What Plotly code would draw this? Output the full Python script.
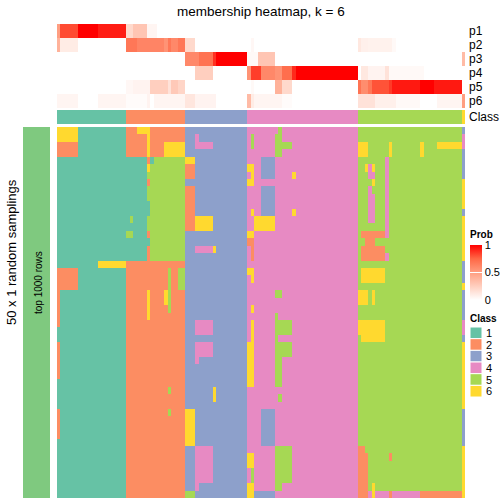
import plotly.graph_objects as go

# ---------------- data ----------------
class_labels = ["1", "2", "3", "4", "5", "6"]
class_colors = ["#66C2A5", "#FC8D62", "#8DA0CB", "#E78AC3", "#A6D854", "#FFD92F"]
n_cols = 118

# class of each column (run-length: class:count)
column_class_runs = "1:20 2:17 3:18 4:32 5:30 6:1"

prob_names = ["p1", "p2", "p3", "p4", "p5", "p6"]
# membership probabilities per column (run-length: count, value)
p1_runs = [(1, 0.5), (5, 0.82), (6, 1.0), (8, 0.93), (2, 0.2), (4, 0.3), (3, 0.05), (89, 0.0)]
p2_runs = [(1, 0.4), (5, 0.1), (14, 0.0), (3, 0.68), (4, 0.62), (4, 0.62), (1, 0.55), (1, 0.68),
           (2, 0.6), (2, 0.68), (3, 0.2), (16, 0.0), (1, 0.04), (30, 0.0), (1, 0.12), (2, 0.08),
           (7, 0.07), (1, 0.03), (20, 0.0)]
p3_runs = [(37, 0.0), (4, 0.6), (4, 0.7), (1, 0.88), (9, 1.0), (3, 0.03), (5, 0.3), (54, 0.0), (1, 0.35)]
p4_runs = [(40, 0.0), (5, 0.25), (10, 0.0), (1, 0.55), (3, 0.85), (4, 0.6), (2, 0.55), (3, 0.72),
           (1, 0.9), (18, 1.0), (1, 0.0), (2, 0.12), (5, 0.06), (1, 0.15), (10, 0.03), (12, 0.0)]
p5_runs = [(20, 0.0), (2, 0.04), (5, 0.06), (5, 0.25), (1, 0.15), (2, 0.28), (2, 0.22), (19, 0.0),
           (1, 0.03), (6, 0.0), (2, 0.4), (3, 0.2), (19, 0.0), (1, 0.7), (2, 0.58), (1, 0.68),
           (5, 0.8), (1, 0.86), (8, 0.94), (4, 1.0), (8, 0.94), (1, 0.0)]
p6_runs = [(6, 0.05), (6, 0.0), (8, 0.05), (6, 0.02), (1, 0.06), (1, 0.0), (9, 0.05), (3, 0.13),
           (6, 0.06), (9, 0.0), (1, 0.35), (1, 0.1), (8, 0.05), (3, 0.02), (19, 0.0), (5, 0.15),
           (6, 0.08), (7, 0.03), (5, 0.0), (7, 0.05), (1, 0.5)]

# 50 random samplings x 118 columns, predicted class (run-length: class:count)
membership_rows = [
    "6:6 1:14 2:3 6:4 2:10 3:18 4:9 5:1 4:22 5:30 3:1",
    "6:6 1:14 2:6 6:1 2:10 3:3 4:1 3:14 4:1 5:1 4:6 5:2 4:22 5:30 4:1",
    "2:6 1:14 2:6 6:1 2:4 6:6 3:3 4:5 3:10 4:1 5:1 4:6 5:5 4:19 6:3 5:6 6:1 5:8 6:1 5:4 6:7 4:1",
    "2:6 1:14 2:6 6:1 2:4 6:6 3:18 4:8 5:2 4:22 6:3 5:6 6:1 5:8 6:1 5:11 3:1",
    "1:26 2:1 1:1 5:9 6:3 3:15 4:4 3:4 4:24 5:8 4:1 5:21 3:1",
    "1:26 6:1 5:10 2:3 3:15 6:2 4:2 3:4 4:24 5:2 6:1 4:1 6:1 5:3 4:1 5:21 3:1",
    "1:26 5:11 2:3 3:15 4:1 6:1 4:2 3:4 4:5 6:1 4:18 5:3 4:2 5:3 4:1 5:21 3:1",
    "1:26 2:1 5:10 3:18 6:2 4:30 5:4 6:1 5:3 4:1 5:21 6:1",
    "1:26 5:11 2:3 3:15 4:4 3:4 4:24 5:3 4:1 5:4 4:1 5:21 6:1",
    "1:26 5:11 2:3 3:15 4:4 3:4 4:24 5:3 4:2 5:3 4:1 5:21 6:1",
    "1:27 5:10 2:3 3:15 4:4 3:4 4:24 5:3 4:2 5:3 4:1 5:21 6:1",
    "1:27 5:10 2:3 3:15 4:1 6:1 4:2 3:4 4:5 6:1 4:18 5:3 4:2 5:3 4:1 5:21 3:1",
    "1:21 5:1 1:4 5:11 2:3 6:5 3:10 4:2 6:6 4:24 5:3 4:2 5:3 4:1 5:21 6:1",
    "1:26 5:11 2:3 6:5 3:10 4:2 6:6 4:24 5:8 4:1 5:21 6:1",
    "1:20 5:2 1:4 2:1 5:10 3:18 6:2 4:30 5:1 2:7 4:1 5:21 6:1",
    "1:27 5:10 3:18 2:2 4:30 5:2 2:3 5:25 6:1",
    "1:26 2:1 5:10 3:3 4:5 6:1 3:9 4:1 2:1 4:30 5:1 2:7 5:22 6:1",
    "1:26 2:1 5:10 3:18 4:1 2:1 4:30 5:1 2:7 4:1 5:21 6:1",
    "1:12 6:8 2:17 3:18 4:32 5:30 3:1",
    "2:6 1:14 2:12 5:1 2:2 5:2 3:18 6:2 4:30 5:1 6:7 5:22 3:1",
    "2:6 1:14 2:12 5:1 2:2 5:2 3:18 4:1 6:1 4:30 5:1 6:7 5:22 3:1",
    "2:6 1:14 2:12 5:1 2:2 5:2 3:18 4:32 5:30 6:1",
    "2:1 1:19 2:6 6:1 2:4 6:1 5:1 2:4 3:18 4:8 5:2 4:22 6:3 5:1 6:1 5:25 3:1",
    "2:1 1:19 2:6 6:1 2:4 6:1 5:1 2:4 3:18 4:32 6:3 5:1 6:1 5:25 3:1",
    "2:1 1:19 2:6 6:1 2:5 5:1 2:4 3:18 4:1 6:1 4:30 5:30 3:1",
    "2:1 1:19 2:6 6:1 2:10 3:18 4:8 5:1 4:23 5:30 3:1",
    "2:1 1:19 2:17 3:3 4:5 3:10 4:1 6:1 4:6 5:5 4:19 6:8 5:22 4:1",
    "1:20 2:17 3:3 4:5 3:10 4:1 6:1 4:6 5:5 4:19 6:8 5:22 4:1",
    "1:20 2:17 3:18 4:1 6:1 4:6 5:1 4:23 5:1 6:7 5:22 3:1",
    "2:1 1:19 2:17 3:3 4:5 3:10 6:2 4:6 5:5 4:19 5:30 6:1",
    "2:1 1:19 2:17 3:3 4:5 3:10 6:2 4:6 5:5 4:19 5:30 6:1",
    "2:1 1:19 2:17 3:3 4:1 3:14 6:2 4:6 5:2 4:22 5:30 6:1",
    "2:1 1:19 2:17 3:18 6:2 4:6 5:2 4:22 5:30 6:1",
    "2:1 1:19 2:17 3:18 6:2 4:6 5:2 4:22 5:30 6:1",
    "1:20 2:17 3:18 6:2 4:6 5:2 4:22 5:30 6:1",
    "1:20 2:12 5:1 2:4 3:8 6:1 3:9 4:32 5:30 6:1",
    "1:20 2:17 3:8 6:1 3:9 4:9 5:1 4:22 5:30 6:1",
    "1:20 2:17 3:18 4:32 5:30 6:1",
    "2:1 1:19 2:12 5:1 2:4 6:3 3:15 4:4 3:4 4:24 5:30 3:1",
    "2:1 1:19 2:17 6:3 3:15 4:4 3:4 4:24 5:30 3:1",
    "2:1 1:19 2:17 6:3 3:15 4:4 3:4 4:24 5:30 3:1",
    "2:1 1:19 2:17 6:3 3:15 4:4 3:4 4:24 5:30 3:1",
    "1:20 2:17 6:3 3:15 4:4 3:4 4:24 5:30 3:1",
    "1:20 2:17 3:3 4:5 3:10 4:8 5:5 4:19 2:2 5:28 6:1",
    "1:20 2:17 3:3 4:5 3:10 6:2 4:6 5:5 4:19 2:3 5:6 2:1 5:20 6:1",
    "1:20 2:17 3:3 4:5 3:10 6:2 4:6 5:5 4:19 2:3 5:27 6:1",
    "1:20 2:17 3:3 4:5 3:10 4:1 5:1 4:6 5:5 4:19 2:3 5:27 6:1",
    "1:20 2:17 3:3 4:5 3:10 4:1 5:1 4:6 5:5 4:19 2:3 5:27 6:1",
    "1:20 2:17 3:3 4:1 3:14 6:2 4:6 5:2 4:22 2:3 5:1 6:1 5:25 6:1",
    "1:20 2:17 5:3 3:15 6:2 3:6 4:24 2:3 4:1 6:1 4:4 2:1 4:8 2:12 6:1",
]

title_text = "membership heatmap, k = 6"
left_title = "50 x 1 random samplings"
slice_title = "top 1000 rows"


# ---------------- decode ----------------
def decode_class_runs(s):
    out = []
    for tok in s.split():
        v, c = tok.split(":")
        out += [int(v)] * int(c)
    assert len(out) == n_cols, (s, len(out))
    return out


def decode_prob_runs(runs):
    out = []
    for c, v in runs:
        out += [v] * c
    assert len(out) == n_cols, len(out)
    return out


membership = [decode_class_runs(r) for r in membership_rows]
column_class = decode_class_runs(column_class_runs)
probs = [decode_prob_runs(r) for r in [p1_runs, p2_runs, p3_runs, p4_runs, p5_runs, p6_runs]]

cols = list(range(n_cols))

# discrete colourscale for classes
class_cs = []
for i, c in enumerate(class_colors):
    class_cs.append([i / 6, c])
    class_cs.append([(i + 1) / 6, c])

prob_cs = [[0, "#FFFFFF"], [0.25, "rgb(255,207,191)"], [0.5, "rgb(255,158,129)"],
           [0.75, "rgb(255,104,70)"], [1, "#FF0000"]]

W = H = 504
FONT = "Liberation Sans, Arial, Helvetica, sans-serif"


def px(x):
    return x / W


def py(y):
    return 1 - y / H


def label(text, x, y, size, xanchor="center", angle=0):
    return dict(text=text, x=px(x), y=py(y), xref="paper", yref="paper",
                xanchor=xanchor, yanchor="middle", showarrow=False, textangle=angle,
                font=dict(size=size, family=FONT, color="black"))


fig = go.Figure()

# main membership heatmap
fig.add_trace(go.Heatmap(z=membership, x=cols, y=list(range(len(membership))),
                         colorscale=class_cs, zmin=0.5, zmax=6.5, showscale=False,
                         hoverinfo="skip", xaxis="x", yaxis="y"))
# probability annotation
fig.add_trace(go.Heatmap(z=probs, x=cols, y=list(range(6)), colorscale=prob_cs,
                         zmin=0, zmax=1, hoverinfo="skip", xaxis="x2", yaxis="y2",
                         colorbar=dict(x=px(470), xanchor="left", xref="paper",
                                       y=py(245), yanchor="top", yref="paper",
                                       len=55, lenmode="pixels", thickness=12,
                                       thicknessmode="pixels", xpad=0, ypad=0,
                                       outlinewidth=0, tickvals=[0, 0.5, 1],
                                       ticktext=["0", "0.5", "1"], ticks="inside",
                                       ticklen=12, tickcolor="white", tickwidth=1,
                                       tickfont=dict(size=11, family=FONT, color="black"))))
# class annotation
fig.add_trace(go.Heatmap(z=[column_class], x=cols, y=[0], colorscale=class_cs,
                         zmin=0.5, zmax=6.5, showscale=False, hoverinfo="skip",
                         xaxis="x3", yaxis="y3"))

xa = dict(range=[-0.5, n_cols - 0.5], visible=False, fixedrange=True, domain=[px(57), px(465)])
fig.update_layout(
    width=W, height=H, autosize=False,
    margin=dict(l=0, r=0, t=0, b=0, pad=0, autoexpand=False),
    paper_bgcolor="white", plot_bgcolor="white",
    font=dict(family=FONT, color="black"),
    xaxis=dict(xa, anchor="y"),
    yaxis=dict(range=[len(membership) - 0.5, -0.5], visible=False, fixedrange=True,
               domain=[py(498), py(127)], anchor="x"),
    xaxis2=dict(xa, anchor="y2"),
    yaxis2=dict(range=[5.5, -0.5], visible=False, fixedrange=True,
                domain=[py(108), py(24)], anchor="x2"),
    xaxis3=dict(xa, anchor="y3"),
    yaxis3=dict(range=[0.5, -0.5], visible=False, fixedrange=True,
                domain=[py(124), py(110)], anchor="x3"),
    showlegend=False,
)

shapes = []
annotations = []

# left slice bar
shapes.append(dict(type="rect", xref="paper", yref="paper", x0=px(23), x1=px(50),
                   y0=py(498), y1=py(127), fillcolor="#7FC97F", line=dict(width=0), layer="below"))
annotations.append(label(slice_title, 38, 283, 10, angle=-90))
annotations.append(label(left_title, 11, 252, 13, angle=-90))

# title
annotations.append(label(title_text, 261, 11, 13.5))

# row labels
row_label_y = [31, 45, 59, 73, 87, 101]
for name, yy in zip(prob_names, row_label_y):
    annotations.append(label(name, 467, yy, 12, xanchor="left"))
annotations.append(label("Class", 467, 117, 12, xanchor="left"))

# legend titles
annotations.append(label("<b>Prob</b>", 468, 234, 10, xanchor="left"))
annotations.append(label("<b>Class</b>", 468, 318, 10, xanchor="left"))

# class legend
sq_top = 327
sq_h = 11.67
for i, (lab, col) in enumerate(zip(class_labels, class_colors)):
    y0 = sq_top + i * sq_h
    shapes.append(dict(type="rect", xref="paper", yref="paper", x0=px(470), x1=px(482),
                       y0=py(y0 + sq_h), y1=py(y0), fillcolor=col,
                       line=dict(color="white", width=1)))
    annotations.append(label(lab, 484, y0 + sq_h / 2, 11, xanchor="left"))

fig.update_layout(shapes=shapes, annotations=annotations)
fig.write_html("out.html", config={"displayModeBar": False},
               post_script="document.body.style.margin='0';")
